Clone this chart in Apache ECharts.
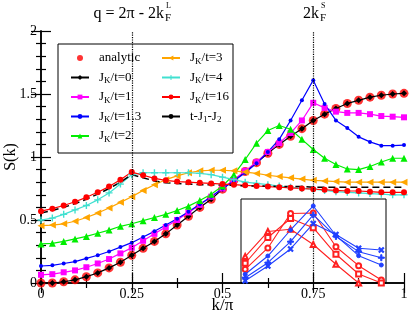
<!DOCTYPE html>
<html><head><meta charset="utf-8">
<script src="https://cdn.jsdelivr.net/npm/echarts@6/dist/echarts.min.js"></script>
<style>html,body{margin:0;padding:0;background:#fff}#c{width:409px;height:315px}</style>
</head><body><div id="c"></div>
<script>
const K = [0,0.03125,0.0625,0.09375,0.125,0.15625,0.1875,0.21875,0.25,0.28125,0.3125,0.34375,0.375,0.40625,0.4375,0.46875,0.5,0.53125,0.5625,0.59375,0.625,0.65625,0.6875,0.71875,0.75,0.78125,0.8125,0.84375,0.875,0.90625,0.9375,0.96875,1];
const analytic = [0,0,0.01,0.025,0.05,0.08,0.12,0.165,0.22,0.275,0.33,0.39,0.46,0.53,0.60,0.665,0.745,0.815,0.885,0.955,1.03,1.10,1.165,1.225,1.29,1.34,1.385,1.425,1.45,1.475,1.49,1.50,1.505];
const jk0 = [0,0,0.01,0.025,0.05,0.08,0.12,0.165,0.22,0.275,0.33,0.39,0.46,0.53,0.60,0.665,0.745,0.815,0.885,0.955,1.03,1.10,1.165,1.225,1.29,1.34,1.385,1.425,1.45,1.475,1.49,1.50,1.505];
const jk1 = [0.065,0.07,0.085,0.10,0.125,0.155,0.19,0.235,0.28,0.335,0.39,0.445,0.50,0.56,0.62,0.685,0.75,0.82,0.89,0.96,1.04,1.11,1.19,1.29,1.43,1.39,1.36,1.35,1.35,1.34,1.325,1.32,1.315];
const jk13 = [0.135,0.14,0.155,0.17,0.195,0.22,0.25,0.285,0.32,0.365,0.41,0.46,0.51,0.565,0.625,0.685,0.75,0.81,0.875,0.95,1.04,1.14,1.29,1.45,1.61,1.42,1.29,1.23,1.16,1.12,1.09,1.09,1.095];
const jk2 = [0.31,0.315,0.33,0.35,0.37,0.395,0.42,0.45,0.47,0.495,0.52,0.545,0.575,0.61,0.655,0.705,0.77,0.86,0.98,1.11,1.21,1.25,1.22,1.14,1.06,0.99,0.94,0.905,0.90,0.925,0.96,0.99,0.99];
const jk3 = [0.455,0.46,0.47,0.49,0.52,0.555,0.595,0.64,0.685,0.735,0.78,0.82,0.85,0.875,0.89,0.895,0.895,0.89,0.88,0.87,0.855,0.845,0.835,0.825,0.815,0.81,0.805,0.80,0.80,0.80,0.80,0.80,0.80];
const jk4 = [0.50,0.515,0.545,0.58,0.615,0.66,0.715,0.785,0.86,0.875,0.875,0.875,0.875,0.875,0.87,0.86,0.84,0.82,0.80,0.79,0.78,0.77,0.76,0.75,0.745,0.735,0.725,0.72,0.715,0.71,0.705,0.70,0.70];
const jk16 = [0.57,0.59,0.615,0.645,0.68,0.72,0.765,0.82,0.88,0.855,0.83,0.815,0.805,0.80,0.795,0.79,0.785,0.78,0.775,0.77,0.765,0.76,0.755,0.75,0.745,0.74,0.735,0.73,0.73,0.725,0.72,0.72,0.72];
const tJ1J2 = [0.555,0.575,0.60,0.63,0.665,0.705,0.75,0.80,0.86,0.835,0.81,0.795,0.79,0.785,0.78,0.78,0.775,0.775,0.77,0.77,0.77,0.765,0.765,0.765,0.76,0.76,0.76,0.76,0.76,0.76,0.76,0.76,0.76];
const xTicks = [0, 0.25, 0.5, 0.75, 1];
const yTicks = [0, 0.5, 1, 1.5, 2];
// inset
const Kin = [0.5625,0.625,0.6875,0.75,0.8125,0.875,0.9375];
const inRedCirc = [0.163,0.417,0.827,0.833,0.432,0.206,0.036];
const inRedSq = [0.235,0.542,0.768,0.658,0.342,0.107,0.0];
const inRedTri = [0.315,0.613,0.639,0.458,0.223,0.0,-0.2];
const inBlueStar = [0.104,0.321,0.631,0.917,0.565,0.325,0.214];
const inBluePlus = [0.063,0.242,0.492,0.810,0.554,0.373,0.301];
const inBlueX = [0.027,0.202,0.405,0.708,0.577,0.413,0.393];

const FONT = '"Liberation Serif", "Times New Roman", serif';
const PLUS = 'path://M4,0H6V4H10V6H6V10H4V6H0V4H4Z';
const pairs = (xs, ys) => xs.map((x, i) => [x, ys[i]]);

function lineSeries(name, data, color, symbol, size, extra) {
  return Object.assign({
    name, type: 'line', data: pairs(K, data), symbol, symbolSize: size,
    lineStyle: { color, width: 1.2 }, itemStyle: { color },
    xAxisIndex: 0, yAxisIndex: 0, animation: false, z: 3
  }, extra || {});
}
function insetSeries(data, color, symbol, size, extra) {
  return Object.assign({
    type: 'line', data: pairs(Kin, data), symbol, symbolSize: size,
    lineStyle: { color, width: 1.1 }, itemStyle: { color, borderColor: color, borderWidth: 1 },
    xAxisIndex: 2, yAxisIndex: 2, animation: false, z: 5, clip: true
  }, extra || {});
}

const fmt = n => n.replace('JK', 'J{s|K}').replace('t-J1-J2', 't-J{s|1}-J{s|2}');
const legendText = {
  fontFamily: FONT, fontSize: 13, color: '#000', lineHeight: 16, padding: [0, 0, 0, 5],
  rich: { s: { fontFamily: FONT, fontSize: 9, lineHeight: 10, verticalAlign: 'bottom' } }
};

const chart = echarts.init(document.getElementById('c'), null, { renderer: 'canvas' });
chart.setOption({
  backgroundColor: '#fff',
  animation: false,
  grid: [
    { left: 41, right: 5, top: 31, bottom: 32, show: false, containLabel: false, outerBoundsMode: 'none' },
    { left: 241, top: 199, width: 145, height: 84, show: true, borderColor: '#000', borderWidth: 1, backgroundColor: 'transparent', containLabel: false, outerBoundsMode: 'none' }
  ],
  legend: [
    { data: ['analytic', 'JK/t=0', 'JK/t=1', 'JK/t=1.3', 'JK/t=2'], orient: 'vertical', left: 65, top: 45,
      itemWidth: 18, itemHeight: 6, itemGap: 3.5, formatter: fmt, textStyle: legendText, selectedMode: false },
    { data: ['JK/t=3', 'JK/t=4', 'JK/t=16', 't-J1-J2'], orient: 'vertical', left: 156, top: 45,
      itemWidth: 18, itemHeight: 6, itemGap: 3.5, formatter: fmt, textStyle: legendText, selectedMode: false }
  ],
  graphic: [
    { type: 'rect', shape: { x: 58, y: 44, width: 175, height: 109 }, style: { fill: '#fff', stroke: '#000', lineWidth: 1 }, z: 3 },
    { type: 'text', x: 164, y: 14, style: { text: 'q = 2π - 2k', font: '16px ' + FONT, textAlign: 'right', align: 'right', textVerticalAlign: 'middle', verticalAlign: 'middle', fill: '#000' } },
    { type: 'text', x: 165, y: 18, style: { text: 'F', font: '11px ' + FONT, textAlign: 'left', align: 'left', textVerticalAlign: 'middle', verticalAlign: 'middle', fill: '#000' } },
    { type: 'text', x: 166, y: 6, style: { text: 'L', font: '8px ' + FONT, textAlign: 'left', align: 'left', textVerticalAlign: 'middle', verticalAlign: 'middle', fill: '#000' } },
    { type: 'text', x: 319, y: 14, style: { text: '2k', font: '16px ' + FONT, textAlign: 'right', align: 'right', textVerticalAlign: 'middle', verticalAlign: 'middle', fill: '#000' } },
    { type: 'text', x: 320, y: 18, style: { text: 'F', font: '11px ' + FONT, textAlign: 'left', align: 'left', textVerticalAlign: 'middle', verticalAlign: 'middle', fill: '#000' } },
    { type: 'text', x: 321, y: 6, style: { text: 'S', font: '8px ' + FONT, textAlign: 'left', align: 'left', textVerticalAlign: 'middle', verticalAlign: 'middle', fill: '#000' } }
  ],
  xAxis: [
    { type: 'value', gridIndex: 0, min: xTicks[0], max: xTicks[xTicks.length - 1], interval: 0.25, position: 'bottom',
      name: 'k/π', nameLocation: 'middle', nameGap: 14, nameMoveOverlap: false,
      nameTextStyle: { fontFamily: FONT, fontSize: 17, color: '#000', verticalAlign: 'top' },
      axisLine: { lineStyle: { color: '#000', width: 1.5 } },
      axisTick: { inside: true, length: 10, lineStyle: { color: '#000', width: 1.2 } },
      minorTick: { show: true, splitNumber: 2, length: 5, lineStyle: { color: '#000', width: 1.2 } },
      axisLabel: { fontFamily: FONT, fontSize: 14, color: '#000', margin: 4 },
      splitLine: { show: false } },
    { type: 'value', gridIndex: 0, min: 0, max: 1, interval: 0.25, position: 'top',
      axisLine: { lineStyle: { color: '#000', width: 1.5 } },
      axisTick: { inside: true, length: 10, lineStyle: { color: '#000', width: 1.2 } },
      minorTick: { show: true, splitNumber: 2, length: 5, lineStyle: { color: '#000', width: 1.2 } },
      axisLabel: { show: false }, splitLine: { show: false } },
    { type: 'value', gridIndex: 1, min: 0.551, max: 0.9504, show: false, splitLine: { show: false } }
  ],
  yAxis: [
    { type: 'value', gridIndex: 0, min: yTicks[0], max: yTicks[yTicks.length - 1], interval: 0.5, position: 'left',
      name: 'S(k)', nameLocation: 'middle', nameGap: 22, nameMoveOverlap: false,
      nameTextStyle: { fontFamily: FONT, fontSize: 16, color: '#000' },
      axisLine: { lineStyle: { color: '#000', width: 1.5 } },
      axisTick: { inside: true, length: 10, lineStyle: { color: '#000', width: 1.2 } },
      minorTick: { show: true, splitNumber: 5, length: 5, lineStyle: { color: '#000', width: 1.2 } },
      axisLabel: { fontFamily: FONT, fontSize: 14, color: '#000', margin: 4 },
      splitLine: { show: false } },
    { type: 'value', gridIndex: 0, min: 0, max: 2, interval: 0.5, position: 'right',
      axisLine: { lineStyle: { color: '#000', width: 1.5 } },
      axisTick: { inside: true, length: 10, lineStyle: { color: '#000', width: 1.2 } },
      minorTick: { show: true, splitNumber: 5, length: 5, lineStyle: { color: '#000', width: 1.2 } },
      axisLabel: { show: false }, splitLine: { show: false } },
    { type: 'value', gridIndex: 1, min: 0, max: 1, show: false, splitLine: { show: false } }
  ],
  series: [
    { name: 'analytic', type: 'scatter', data: pairs(K, analytic), symbol: 'circle', symbolSize: 9,
      itemStyle: { color: '#ff0000' }, xAxisIndex: 0, yAxisIndex: 0, z: 2, animation: false },
    lineSeries('JK/t=0', jk0, '#000000', 'diamond', 6, {
      markLine: { silent: true, symbol: ['none', 'none'], label: { show: false },
        lineStyle: { type: 'dotted', color: '#000', width: 1.2 },
        data: [{ xAxis: 0.25 }, { xAxis: 0.75 }] } }),
    lineSeries('JK/t=1', jk1, '#ff00ff', 'rect', 6),
    lineSeries('JK/t=1.3', jk13, '#0000ff', 'circle', 4),
    lineSeries('JK/t=2', jk2, '#00ee00', 'triangle', 7),
    lineSeries('JK/t=3', jk3, '#ffa500', 'triangle', 7, { symbolRotate: 90 }),
    lineSeries('JK/t=4', jk4, '#40e0d0', PLUS, 7),
    lineSeries('JK/t=16', jk16, '#ff0000', 'circle', 6),
    lineSeries('t-J1-J2', tJ1J2, '#000000', 'none', 0, { lineStyle: { color: '#000', width: 1.5, type: [7, 4] } }),
    insetSeries(inRedCirc, '#ff2020', 'emptyCircle', 5),
    insetSeries(inRedSq, '#ff2020', 'emptyRect', 5),
    insetSeries(inRedTri, '#ff2020', 'emptyTriangle', 5),
    insetSeries(inBlueStar, '#2040ff', 'circle', 4),
    insetSeries(inBluePlus, '#2040ff', PLUS, 6),
    insetSeries(inBlueX, '#2040ff', PLUS, 6, { symbolRotate: 45 })
  ]
});
</script></body></html>
